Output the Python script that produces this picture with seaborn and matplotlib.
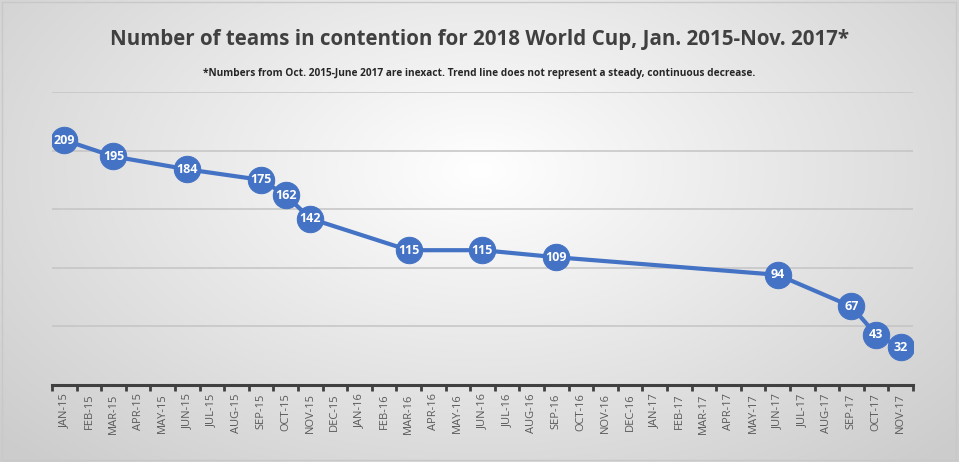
import numpy as np
import pandas as pd
import matplotlib.pyplot as plt
import seaborn as sns

# month categories on the x axis
months = ["JAN-15", "FEB-15", "MAR-15", "APR-15", "MAY-15", "JUN-15", "JUL-15", "AUG-15",
          "SEP-15", "OCT-15", "NOV-15", "DEC-15", "JAN-16", "FEB-16", "MAR-16", "APR-16",
          "MAY-16", "JUN-16", "JUL-16", "AUG-16", "SEP-16", "OCT-16", "NOV-16", "DEC-16",
          "JAN-17", "FEB-17", "MAR-17", "APR-17", "MAY-17", "JUN-17", "JUL-17", "AUG-17",
          "SEP-17", "OCT-17", "NOV-17"]

# months that have a count, and the count
point_months = ["JAN-15", "MAR-15", "JUN-15", "SEP-15", "OCT-15", "NOV-15", "MAR-16",
                "JUN-16", "SEP-16", "JUN-17", "SEP-17", "OCT-17", "NOV-17"]
teams = [209, 195, 184, 175, 162, 142, 115, 115, 109, 94, 67, 43, 32]

grid_values = [50, 100, 150, 200, 250]

df = pd.DataFrame({"month": point_months, "teams": teams})
df["pos"] = df["month"].map(months.index)

BLUE = "#4472C4"
FONT = ["Open Sans", "DejaVu Sans"]

sns.set_theme(style="white")
plt.rcParams["font.family"] = FONT

fig = plt.figure(figsize=(9.59, 4.62), dpi=100)

# radial grey gradient behind everything (Excel chart area fill)
bg = fig.add_axes([0, 0, 1, 1], zorder=0)
yy, xx = np.mgrid[0:462, 0:959]
r = np.sqrt(((xx - 480) / 560.0) ** 2 + ((yy - 170) / 340.0) ** 2)
shade = np.clip(1.0 - 0.17 * r, 0.80, 1.0)
bg.imshow(np.dstack([shade] * 3), aspect="auto", extent=[0, 959, 462, 0])
bg.plot([2, 956, 956, 2, 2], [2, 2, 460, 460, 2], color="#c8c8c8", lw=1)
bg.set_xlim(0, 959)
bg.set_ylim(462, 0)
bg.axis("off")

ax = fig.add_axes([0.0542, 0.1667, 0.8978, 0.6342], zorder=1)
ax.patch.set_alpha(0)

for g in grid_values:
    ax.axhline(g, color="#c4c4c4", lw=1.1, zorder=1)

sns.lineplot(data=df, x="pos", y="teams", ax=ax, color=BLUE, lw=3,
             marker="o", markersize=19, markeredgecolor=BLUE, zorder=3)

for _, row in df.iterrows():
    ax.text(row["pos"], row["teams"], str(row["teams"]), ha="center", va="center",
            color="white", fontsize=9, fontweight="bold", zorder=4)

ax.set_xlim(-0.5, len(months) - 0.5)
ax.set_ylim(0, 250)
ax.set_xticks(range(len(months)))
ax.set_xticklabels(months, rotation=90, fontsize=8, color="#595959")
ax.set_xticks(np.arange(-0.5, len(months), 1.0), minor=True)
ax.tick_params(axis="x", which="major", length=0, pad=6)
ax.tick_params(axis="x", which="minor", length=4, width=2, color="#404040", direction="out", bottom=True)
ax.set_yticks([])
ax.set_xlabel("")
ax.set_ylabel("")
for s in ["top", "right", "left"]:
    ax.spines[s].set_visible(False)
ax.spines["bottom"].set_color("#404040")
ax.spines["bottom"].set_linewidth(2.2)

fig.text(0.5, 0.915, "Number of teams in contention for 2018 World Cup, Jan. 2015-Nov. 2017*",
         ha="center", va="center", fontsize=14.8, fontweight="bold", color="#404040")
fig.text(0.5, 0.840, "*Numbers from Oct. 2015-June 2017 are inexact. Trend line does not represent a steady, continuous decrease.",
         ha="center", va="center", fontsize=7.3, fontweight="bold", color="#262626")

fig.savefig("out.png", dpi=100)
